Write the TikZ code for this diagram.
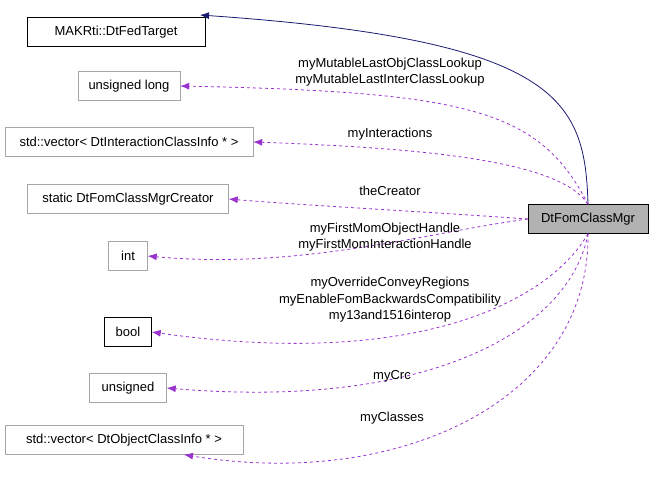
\documentclass[tikz,border=0pt]{standalone}
\usepackage{fontspec}
\setmainfont{Liberation Sans}
\usetikzlibrary{arrows.meta}
\definecolor{edgepurple}{HTML}{9A32CD}
\definecolor{edgenavy}{HTML}{191970}
\tikzset{
  cls/.style={draw=black!35,fill=white,inner sep=0pt,minimum height=29pt,font=\fontsize{13}{15}\selectfont},
  base/.style={cls,draw=black},
  lbl/.style={font=\fontsize{13}{16.5}\selectfont,align=center,inner sep=0pt},
  member/.style={-{Latex[length=9pt,width=7pt]},edgepurple,dashed,line width=0.8pt},
}
\begin{document}
\begin{tikzpicture}[x=1pt,y=-1pt]
   \useasboundingbox (0,0) rectangle (653,480);
   \node[cls,draw=black,fill=black!30,minimum width=120pt] (mgr) at (588,219) {DtFomClassMgr};
   \node[base,minimum width=178pt] (fed) at (116,32) {MAKRti::DtFedTarget};
   \node[cls,minimum width=102pt] (ulong) at (129,86) {unsigned long};
   \node[cls,minimum width=248pt] (inter) at (129,142) {std::vector< DtInteractionClassInfo * >};
   \node[cls,minimum width=201pt] (creator) at (128,199) {static DtFomClassMgrCreator};
   \node[cls,minimum width=39pt] (int) at (128,256) {int};
   \node[base,minimum width=47pt] (bool) at (128,332) {bool};
   \node[cls,minimum width=77pt] (uns) at (128,388) {unsigned};
   \node[cls,minimum width=238pt] (objs) at (124,440) {std::vector< DtObjectClassInfo * >};
  %
   \draw[-{Latex[length=9pt,width=7pt]},edgenavy,line width=0.8pt] (mgr.north) .. controls (585,100) and (560,40) .. (200,15);
   \draw[member] (mgr.north) .. controls (540,110) and (470,92) .. (ulong.east);
   \draw[member] (mgr.north) .. controls (560,160) and (420,148) .. (inter.east);
   \draw[member] (mgr.west) .. controls (430,212) and (300,205) .. (creator.east);
   \draw[member] (mgr.west) .. controls (430,232) and (300,270) .. (int.east);
   \draw[member] (mgr.south) .. controls (550,300) and (420,370) .. (bool.east);
   \draw[member] (mgr.south) .. controls (570,330) and (430,410) .. (uns.east);
   \draw[member] (mgr.south) .. controls (590,400) and (400,490) .. ([xshift=60pt]objs.south);
  %
   \node[lbl] (l1) at (390,72) {myMutableLastObjClassLookup\\myMutableLastInterClassLookup};
   \node[lbl] (l2) at (390,134) {myInteractions};
   \node[lbl] (l3) at (390,191) {theCreator};
   \node[lbl] (l4) at (385,237) {myFirstMomObjectHandle\\myFirstMomInteractionHandle};
   \node[lbl] (l5) at (390,300) {myOverrideConveyRegions\\myEnableFomBackwardsCompatibility\\my13and1516interop};
   \node[lbl] (l6) at (392,376) {myCrc};
   \node[lbl] (l7) at (392,418) {myClasses};
\end{tikzpicture}
\end{document}
